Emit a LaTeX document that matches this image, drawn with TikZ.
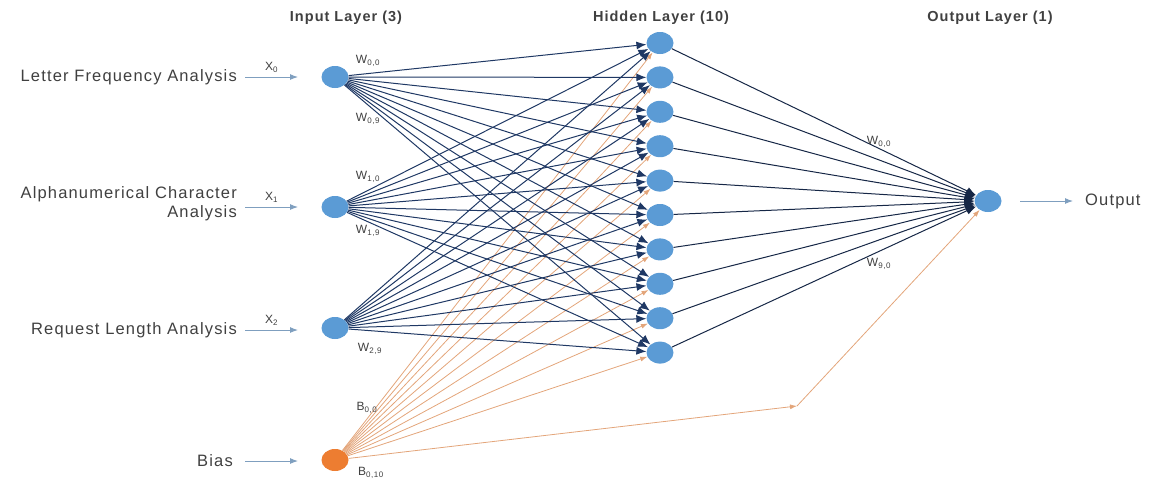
\documentclass[tikz,border=0pt]{standalone}
\usepackage{fontspec}
\setmainfont{Liberation Sans}
\newfontfamily\spacedfont[LetterSpace=7]{Liberation Sans}
\usetikzlibrary{arrows.meta,shapes.geometric}

\definecolor{nodeblue}{HTML}{5B9BD5}
\definecolor{biasorange}{HTML}{ED7D31}
\definecolor{navy}{HTML}{1F3864}
\definecolor{biasline}{HTML}{E3A57A}
\definecolor{feedblue}{HTML}{7F9FBF}
\definecolor{textgray}{HTML}{404040}

\begin{document}
\begin{tikzpicture}[x=1pt,y=-1pt,
	neuron/.style={ellipse, fill=nodeblue, minimum width=27pt, minimum height=22pt, inner sep=0pt},
	bias/.style={neuron, fill=biasorange},
	title/.style={font=\spacedfont\fontsize{14.5}{17}\selectfont\bfseries, text=textgray},
	intext/.style={font=\spacedfont\fontsize{16.5}{19}\selectfont, text=textgray, align=right, inner sep=0pt},
	wlabel/.style={font=\spacedfont\fontsize{12}{14}\selectfont, text=textgray},
	feed/.style={feedblue, line width=1pt, -{Latex[length=8pt,width=6pt]}},
	wire/.style={navy, line width=1pt, -{Latex[length=10pt,width=8pt]}},
	bwire/.style={biasline, line width=0.8pt, -{Latex[length=7pt,width=5pt]}},
	owire/.style={navy!70!black, line width=1pt, -{Latex[length=10pt,width=8pt]}}
	]
	\useasboundingbox (0,0) rectangle (1149,483);

	% layer titles
	\node[title] (tin) at (346,18) {Input Layer (3)};
	\node[title] (thid) at (661,18) {Hidden Layer (10)};
	\node[title] (tout) at (990,18) {Output Layer (1)};

	% neurons
	\node[neuron] (i0) at (335,77) {};
	\node[neuron] (i1) at (335,207) {};
	\node[neuron] (i2) at (335,328) {};
	\node[bias] (b) at (335,460) {};
	\foreach \k in {0,...,9}
		\node[neuron] (h\k) at (660,{43+34.4*\k}) {};
	\node[neuron] (o) at (988,201) {};

	% input texts
	\node[intext, anchor=east] (t0) at (237,77) {Letter Frequency Analysis};
	\node[intext, anchor=east] (t1) at (237,204) {Alphanumerical Character\\Analysis};
	\node[intext, anchor=east] (t2) at (237,330) {Request Length Analysis};
	\node[intext, anchor=east] (tb) at (233,461) {Bias};
	\node[intext, anchor=west] (tout2) at (1085,201) {Output};

	\coordinate (s0) at (245,77);
	\coordinate (s1) at (245,207);
	\coordinate (s2) at (245,330);
	\coordinate (sb) at (245,461);
	\coordinate (a0) at (298,77);
	\coordinate (a1) at (298,207);
	\coordinate (a2) at (298,330);
	\coordinate (ab) at (298,461);
	\coordinate (ao1) at (1020,201);
	\coordinate (ao2) at (1073,201);
	\coordinate (bend) at (797,406);

	\draw[feed] (s0) -- node[wlabel, above=1pt] (x0) {X\textsubscript{0}} (a0);
	\draw[feed] (s1) -- node[wlabel, above=1pt] (x1) {X\textsubscript{1}} (a1);
	\draw[feed] (s2) -- node[wlabel, above=1pt] (x2) {X\textsubscript{2}} (a2);
	\draw[feed] (sb) -- (ab);
	\draw[feed] (ao1) -- (ao2);

	% bias connections
	\foreach \k in {0,...,9}
		\draw[bwire] (b) -- (h\k);
	\draw[bwire] (b) -- (bend);
	\draw[bwire] (bend) -- (o);

	% input to hidden
	\foreach \i in {0,1,2}
		\foreach \k in {0,...,9}
			\draw[wire] (i\i) -- (h\k);

	% hidden to output
	\foreach \k in {0,...,9}
		\draw[owire] (h\k) -- (o);

	% weight labels
	\node[wlabel] (w00) at (368,61) {W\textsubscript{0,0}};
	\node[wlabel] (w09) at (368,119) {W\textsubscript{0,9}};
	\node[wlabel] (w10) at (368,177) {W\textsubscript{1,0}};
	\node[wlabel] (w19) at (368,231) {W\textsubscript{1,9}};
	\node[wlabel] (w29) at (370,349) {W\textsubscript{2,9}};
	\node[wlabel] (b00) at (367,408) {B\textsubscript{0,0}};
	\node[wlabel] (b010) at (371,473) {B\textsubscript{0,10}};
	\node[wlabel] (v00) at (879,142) {W\textsubscript{0,0}};
	\node[wlabel] (v90) at (879,264) {W\textsubscript{9,0}};
\end{tikzpicture}
\end{document}
